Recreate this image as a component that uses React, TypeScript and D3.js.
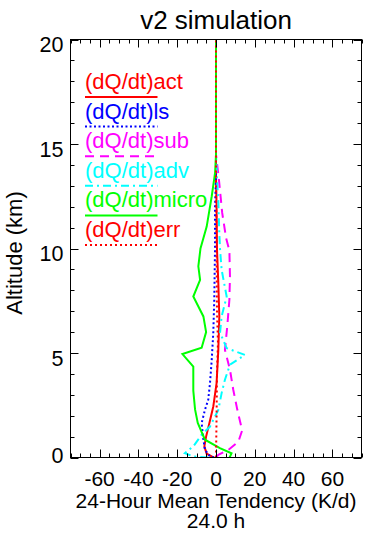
import React from "react";
import * as d3 from "d3";

const titleText = "v2 simulation";
const xTitle = "24-Hour Mean Tendency (K/d)";
const subTitle = "24.0 h";
const yTitle = "Altitude (km)";

const xMajorTicks = [-60, -40, -20, 0, 20, 40, 60];
const yMajorTicks = [0, 5, 10, 15, 20];

// Series: altitude (km) and tendency (K/d)
const actAlt = [0, 0.05, 0.18, 0.53, 1.0, 1.65, 2.44, 3.56, 5.15, 6.75, 8.34, 10, 12, 13.5, 20];
const actVal = [-1, -2.2, -4.8, -6.0, -5.1, -3.4, -1.4, 0.3, 1.2, 1.7, 1.2, 0.5, 0.3, 0, 0];

const lsAlt = [0, 0.05, 0.37, 0.85, 1.65, 2.28, 2.76, 3.56, 4.67, 5.97, 7.55, 10, 12, 13.5, 20];
const lsVal = [-1, -3.1, -5.7, -6.5, -7.4, -5.7, -4.0, -3.1, -2.2, -1.4, -0.9, -0.5, -0.5, 0, 0];

const subAlt = [0, 0.13, 0.37, 0.75, 1.3, 2.28, 3.24, 4.2, 5.15, 6.27, 7.55, 8.66, 9.9, 10.5, 11.7, 13.3, 14.5, 20];
const subVal = [0, 1.2, 6.5, 11.5, 13.5, 11.0, 8.9, 7.2, 4.6, 5.8, 6.9, 7.2, 6.9, 5.2, 3.2, 1.5, 0, 0];

const advAlt = [0, 0.05, 0.21, 0.53, 1.09, 1.48, 2.28, 3.08, 3.72, 4.44, 4.91, 5.23, 5.97, 6.75, 7.7, 8.98, 9.94, 10.75, 12.3, 13.3, 14.5, 20];
const advVal = [-4, -11.7, -16, -11.7, -7.4, -3.1, 1.2, 2.9, 4.6, 7.2, 14.9, 5.5, 2.1, 2.9, 5.5, 2.9, 2.1, 1.7, 1.2, 0.5, 0, 0];

const microAlt = [0, 0.2, 0.45, 0.85, 1.65, 2.3, 3.2, 4.35, 4.95, 5.25, 6.0, 6.75, 7.7, 8.5, 9.15, 10.0, 11.05, 12.5, 13.6, 14.5, 20];
const microVal = [7, 8, 2, -5.7, -9.4, -10.8, -11.7, -11.7, -17.3, -7.4, -5.1, -6.5, -11.7, -8.2, -9.1, -8, -4.8, -2.2, -0.5, 0, 0];

const errAlt = [0, 2, 4, 5.5, 7, 10, 13, 20];
const errVal = [0, 0.3, 0.5, 1.0, 0.5, 0.3, 0, 0];

const seriesNames = ["(dQ/dt)act", "(dQ/dt)ls", "(dQ/dt)sub", "(dQ/dt)adv", "(dQ/dt)micro", "(dQ/dt)err"];
const seriesColors = ["#ff0000", "#0000ff", "#ff00ff", "#00ffff", "#00ff00", "#ff0000"];
const seriesDash = ["", "2 2.5", "9 6", "8 4 2 4", "", "2 3"];
const seriesAlts = [actAlt, lsAlt, subAlt, advAlt, microAlt, errAlt];
const seriesVals = [actVal, lsVal, subVal, advVal, microVal, errVal];

const W = 365;
const H = 533;
const left = 70.5;
const right = 361.5;
const top = 39.5;
const bottom = 457.5;
const FONT = "'Liberation Sans', Arial, sans-serif";

export default function App() {
  const x = d3.scaleLinear().domain([-75, 75]).range([left, right]);
  const y = d3.scaleLinear().domain([0, 20]).range([bottom, top]);

  const xMinor = d3.range(-75, 75.01, 5);
  const yMinor = d3.range(0, 20.01, 1);

  const line = d3
    .line<[number, number]>()
    .x((d) => x(d[0]))
    .y((d) => y(d[1]));

  const legendBase = 89;
  const legendStep = 29.6;

  return (
    <svg width={W} height={H} style={{ position: "absolute", left: 0, top: 0, background: "#fff" }}>
      <defs>
        <clipPath id="plotclip">
          <rect x={left} y={top} width={right - left} height={bottom - top} />
        </clipPath>
      </defs>
      <rect x={0} y={0} width={W} height={H} fill="#fff" />
      <text x={216} y={28.5} fontFamily={FONT} fontSize={26} textAnchor="middle" fill="#000">
        {titleText}
      </text>

      {/* series */}
      <g clipPath="url(#plotclip)">
        {seriesNames.map((name, i) => {
          const pts: [number, number][] = seriesVals[i].map((v, j) => [v, seriesAlts[i][j]]);
          return (
            <path
              key={name + i}
              d={line(pts) || ""}
              fill="none"
              stroke={seriesColors[i]}
              strokeWidth={2}
              strokeDasharray={seriesDash[i] || undefined}
            />
          );
        })}
      </g>

      {/* frame */}
      <rect x={left} y={top} width={right - left} height={bottom - top} fill="none" stroke="#000" strokeWidth={1} />

      {/* ticks */}
      {xMinor.map((v) => {
        const major = xMajorTicks.includes(Math.round(v));
        const len = major ? 8 : 4;
        const px = Math.round(x(v)) + 0.5;
        return (
          <g key={"xt" + v}>
            <line x1={px} x2={px} y1={bottom} y2={bottom - len} stroke="#000" strokeWidth={1} />
            <line x1={px} x2={px} y1={top} y2={top + len} stroke="#000" strokeWidth={1} />
          </g>
        );
      })}
      {yMinor.map((v) => {
        const major = yMajorTicks.includes(Math.round(v));
        const len = major ? 8 : 4;
        const py = Math.round(y(v)) + 0.5;
        return (
          <g key={"yt" + v}>
            <line x1={left} x2={left + len} y1={py} y2={py} stroke="#000" strokeWidth={1} />
            <line x1={right} x2={right - len} y1={py} y2={py} stroke="#000" strokeWidth={1} />
          </g>
        );
      })}

      {/* tick labels */}
      {xMajorTicks.map((v) => (
        <text key={"xl" + v} x={x(v)} y={486} fontFamily={FONT} fontSize={21} textAnchor="middle" fill="#000">
          {v}
        </text>
      ))}
      {yMajorTicks.map((v) => (
        <text
          key={"yl" + v}
          x={63.5}
          y={y(v) + (v === 0 ? 5.8 : 12.5)}
          fontFamily={FONT}
          fontSize={21.5}
          textAnchor="end"
          fill="#000"
        >
          {v}
        </text>
      ))}

      <text x={216} y={507.5} fontFamily={FONT} fontSize={21} textAnchor="middle" fill="#000">
        {xTitle}
      </text>
      <text x={216} y={528} fontFamily={FONT} fontSize={21} textAnchor="middle" fill="#000">
        {subTitle}
      </text>
      <text
        transform="translate(22,253) rotate(-90)"
        fontFamily={FONT}
        fontSize={22}
        textAnchor="middle"
        fill="#000"
      >
        {yTitle}
      </text>

      {/* legend */}
      {seriesNames.map((name, i) => {
        const by = legendBase + i * legendStep;
        return (
          <g key={"lg" + i}>
            <text x={85} y={by} fontFamily={FONT} fontSize={22} fill={seriesColors[i]}>
              {name}
            </text>
            <line
              x1={85}
              x2={157.5}
              y1={by + 8}
              y2={by + 8}
              stroke={seriesColors[i]}
              strokeWidth={2}
              strokeDasharray={seriesDash[i] || undefined}
            />
          </g>
        );
      })}
    </svg>
  );
}
